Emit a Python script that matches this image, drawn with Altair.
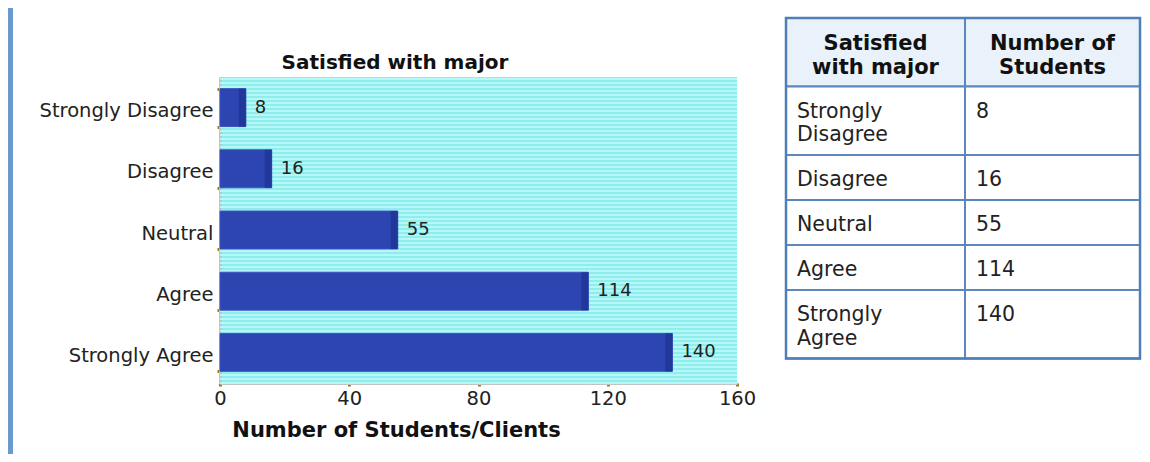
import altair as alt
import pandas as pd

# ---- data ----
categories = ["Strongly Disagree", "Disagree", "Neutral", "Agree", "Strongly Agree"]
counts = [8, 16, 55, 114, 140]
x_ticks = [0, 40, 80, 120, 160]
chart_title = "Satisfied with major"
x_title = "Number of Students/Clients"
header_lines = [["Satisfied", "with major"], ["Number of", "Students"]]

FONT = "DejaVu Sans"
W, H = 517, 306

df = pd.DataFrame({"cat": categories, "n": counts, "lbl": [str(c) for c in counts]})

# ---- stripes background ----
stripes = alt.Chart(pd.DataFrame({"s": list(range(0, 77))})).mark_rule(
    color="#b6f7f7", strokeWidth=2
).encode(
    y=alt.Y("s:Q", axis=None, scale=alt.Scale(domain=[0, 76.5], nice=False, zero=False)),
    x=alt.value(0),
    x2=alt.value({"expr": "width"}),
)

ysc = alt.Scale(domain=categories, paddingInner=0.38, paddingOuter=0.19)
xsc = alt.Scale(domain=[0, 160], nice=False)

bars = alt.Chart(df).mark_bar(color="#2c45b1", stroke="#3a55c0", strokeWidth=1).encode(
    y=alt.Y("cat:N", sort=categories, scale=ysc, title=None,
            axis=alt.Axis(tickBand="extent", labelFontSize=19.5, labelFont=FONT,
                          labelColor="#222222", tickSize=3, tickWidth=3, tickColor="#9c7c1c",
                          domainColor="#c4c4c4", domainWidth=3, labelPadding=4,
                          labelOffset=3)),
    x=alt.X("n:Q", scale=xsc, title=x_title,
            axis=alt.Axis(values=x_ticks, grid=False, labelFontSize=19.5, labelFont=FONT,
                          labelColor="#222222", tickSize=3, tickWidth=3, tickColor="#9c7c1c",
                          domainColor="#c4c4c4", domainWidth=3, labelPadding=3,
                          labelFlush=False,
                          titleFont=FONT, titleFontSize=21, titleFontWeight="bold",
                          titleColor="#111111", titleX=176, titleY=47,
                          titleAlign="center", titleBaseline="middle")),
)
ends = alt.Chart(df).mark_bar(color="#22379a", xOffset=-7).encode(
    y=alt.Y("cat:N", sort=categories),
    x="n:Q",
    x2="n:Q",
)
labels = alt.Chart(df).mark_text(align="left", baseline="middle", dx=9, font=FONT,
                                  fontSize=18, color="#222222").encode(
    y=alt.Y("cat:N", sort=categories),
    x="n:Q",
    text="lbl:N",
)
title_mark = alt.Chart(pd.DataFrame({"t": [chart_title]})).mark_text(
    align="center", baseline="middle", font=FONT, fontSize=20, fontWeight="bold",
    color="#111111"
).encode(x=alt.value(175), y=alt.value(-14), text="t:N")

bar_layer = alt.layer(bars, ends, labels)

# ---- table ----
col_w = [179, 175]
LH_BODY = 23.5
LH_HEAD = 24
def row_h(lines):
    return 21.5 + 23.5 * lines

rows = [header_lines]
for c, n in zip(categories, counts):
    rows.append([c.split(" "), [str(n)]])

cells = []
y0 = 0
for ri, r in enumerate(rows):
    nl = max(len(r[0]), len(r[1]))
    h = row_h(nl)
    x0 = 0
    for ci in range(2):
        nli = len(r[ci])
        cells.append({
            "x0": x0, "x1": x0 + col_w[ci], "y0": y0, "y1": y0 + h,
            "xc": x0 + col_w[ci] / 2, "yc": y0 + h / 2 - (nli - 1) * LH_HEAD / 2 + 4,
            "xl": x0 + 11, "yt": y0 + 15,
            "lines": r[ci], "hdr": ri == 0,
        })
        x0 += col_w[ci]
    y0 += h
total_h = y0
total_w = sum(col_w)
tdf = pd.DataFrame(cells)
TX0, TY0 = 566, -59
txs = alt.Scale(domain=[0, total_w], range=[TX0, TX0 + total_w], nice=False, zero=False)
tys = alt.Scale(domain=[0, total_h], range=[TY0, TY0 + total_h], nice=False, zero=False)

tbase = alt.Chart(tdf)
tcells = tbase.mark_rect(stroke="#5b87bd", strokeWidth=2).encode(
    x=alt.X("x0:Q", scale=txs, axis=None),
    x2="x1:Q",
    y=alt.Y("y0:Q", scale=tys, axis=None),
    y2="y1:Q",
    fill=alt.Fill("hdr:N", scale=alt.Scale(domain=[True, False], range=["#e9f1fa", "#ffffff"]),
                  legend=None),
)
touter = alt.Chart(pd.DataFrame({"a": [0], "b": [total_w], "c": [0], "d": [total_h]})).mark_rect(
    fill=None, stroke="#4f7fb8", strokeWidth=2.5
).encode(
    x=alt.X("a:Q", scale=txs, axis=None), x2="b:Q",
    y=alt.Y("c:Q", scale=tys, axis=None), y2="d:Q",
)
thead = tbase.transform_filter("datum.hdr").mark_text(
    align="center", baseline="middle", font=FONT, fontSize=21, fontWeight="bold",
    color="#111111", lineHeight=LH_HEAD
).encode(
    x=alt.X("xc:Q", scale=txs, axis=None),
    y=alt.Y("yc:Q", scale=tys, axis=None),
    text="lines",
)
tbody = tbase.transform_filter("!datum.hdr").mark_text(
    align="left", baseline="top", font=FONT, fontSize=20.5, color="#222222", lineHeight=LH_BODY
).encode(
    x=alt.X("xl:Q", scale=txs, axis=None),
    y=alt.Y("yt:Q", scale=tys, axis=None),
    text="lines",
)
table_layer = alt.layer(tcells, touter, thead, tbody)

# ---- frame strip (decoration) ----
frame = alt.Chart(pd.DataFrame({"k": [0]})).mark_rect(color="#6b9bce").encode(
    x=alt.value(-212), x2=alt.value(-207), y=alt.value(-69), y2=alt.value(377)
)

chart = alt.layer(stripes, bar_layer, title_mark, table_layer, frame).resolve_scale(
    x="independent", y="independent"
).properties(
    width=W, height=H,
    autosize=alt.AutoSizeParams(type="none"),
    padding={"left": 212, "top": 69, "right": 405, "bottom": 71},
).configure_view(fill="#8eeeee", stroke=None)

chart.save("out.html", embed_options={"renderer": "svg", "actions": False})
